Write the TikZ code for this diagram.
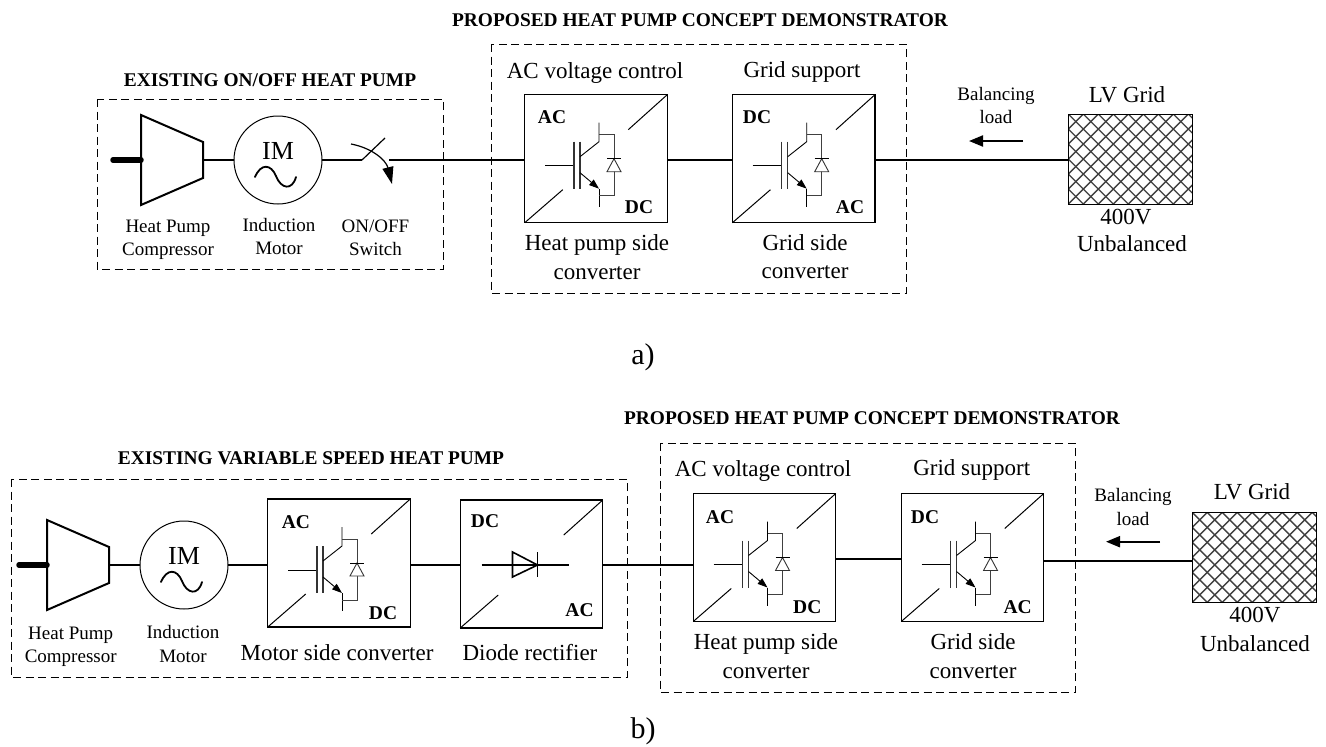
\documentclass[tikz,border=0pt]{standalone}
\usepackage{fontspec}
\setmainfont{Liberation Serif}
\usetikzlibrary{arrows.meta,calc}
\tikzset{
 x=1pt,y=-1pt,
 every node/.style={inner sep=0pt,outer sep=0pt,align=center},
 wire/.style={line width=2pt},
 dashbox/.style={draw,line width=1pt,dash pattern=on 8pt off 4.5pt},
 convbox/.style={draw,line width=1.3pt,minimum width=142.5pt,minimum height=128pt},
 thin part/.style={line width=0.9pt},
 mot/.style={circle,draw,line width=1pt,minimum size=88pt},
 grid box/.style={draw,line width=1pt,minimum width=124.5pt,minimum height=90pt},
 ttl/.style={font=\bfseries\fontsize{19.4}{22}\selectfont},
 big/.style={font=\fontsize{23}{28.5}\selectfont},
 small/.style={font=\fontsize{19}{23.5}\selectfont},
 lab/.style={font=\bfseries\fontsize{19.5}{22}\selectfont},
 caption text/.style={font=\fontsize{30}{32}\selectfont},
 arrowline/.style={line width=2pt,-{Triangle[length=14pt,width=11pt]}},
}
\newcommand{\convframe}[3]{%
 \node[convbox] (#1) at (#2,#3) {};
 \draw[line width=1pt] (#1.north east) -- ++(-39,35);
 \draw[line width=1pt] (#1.south west) -- ++(38,-33);
}
\newcommand{\igbt}[1]{%
 \begin{scope}[shift={(#1.center)},thin part]
  \draw (-51,7) -- (-23,7);
  \draw[line width=1.1pt,black!80] (-22,-17) -- (-22,30);
  \draw[line width=1.1pt,black!80] (-16,-17) -- (-16,30);
  \draw (3,-36) -- (3,-17) -- (-16,-2);
  \draw[-{Triangle[length=10pt,width=7pt]}] (-16,14) -- (3,30);
  \draw (3,30) -- (3,48);
  \draw[black!75] (3,-24) -- (18,-24) -- (18,37) -- (3,37);
  \draw[draw=black!80,fill=white] (18,0) -- (11,13) -- (25,13) -- cycle;
  \draw (11,0) -- (25,0);
 \end{scope}
}
\newcommand{\compressor}[3]{%
 \coordinate (#1in) at (#2,#3);
 \coordinate (#1out) at (#2+62,#3);
 \draw[line width=2pt,line join=miter] (#2,#3-45) -- (#2+62,#3-18) -- (#2+62,#3+18) -- (#2,#3+45) -- cycle;
 \coordinate (#1stub) at (#2-28,#3);
 \draw[line width=5.5pt,line cap=round] (#1stub) -- (#1in);
}
\newcommand{\motor}[3]{%
 \node[mot] (#1) at (#2,#3) {};
 \node[font=\fontsize{26}{28}\selectfont] at (#2,#3-9) {IM};
 \draw[line width=1.8pt,line cap=round] (#2-23,#3+17) .. controls (#2-17,#3+3) and (#2-7,#3+4) .. (#2-2,#3+16) .. controls (#2+3,#3+29) and (#2+14,#3+31) .. (#2+18,#3+17);
}
\newcommand{\gridhatch}[1]{%
 \begin{scope}
  \clip (#1.north west) rectangle (#1.south east);
  \foreach \k in {-8,...,16}{
   \draw[line width=1.4pt,black!75] ($(#1.north west)+(\k*15,0)$) -- ++(100,100);
   \draw[line width=1.4pt,black!75] ($(#1.north west)+(\k*15,0)$) -- ++(-100,100);
  }
 \end{scope}
 \draw[line width=1pt] (#1.north west) rectangle (#1.south east);
}
\begin{document}
\begin{tikzpicture}
\useasboundingbox (0,0) rectangle (1326,747);
\fill[white] (0,0) rectangle (1326,747);

% ---------- a)
\node[ttl] at (700,20) {PROPOSED HEAT PUMP CONCEPT DEMONSTRATOR};
\node[ttl] at (270,80) {EXISTING ON/OFF HEAT PUMP};
\draw[dashbox] (97,99) rectangle (443,269);
\draw[dashbox] (491,44) rectangle (906,293);

\compressor{ca}{141}{160}
\motor{ma}{278}{160}
\draw[wire] (caout) -- (ma);
\coordinate (swa) at (362,160);
\coordinate (swb) at (389,160);
\draw[wire] (ma) -- (swa);
\draw[line width=1.2pt] (swa) -- (385,138);
\draw[line width=1.2pt,-{Triangle[length=17pt,width=11pt]}] (351,144) .. controls (372,148) and (386,160) .. (392,184);

\convframe{a1}{596}{158.7}
\igbt{a1}
\node[lab] at (552,117) {AC};
\node[lab] at (639,207) {DC};
\convframe{a2}{803.7}{158.7}
\igbt{a2}
\node[lab] at (757,117) {DC};
\node[lab] at (850,207.5) {AC};
\draw[wire] (swb) -- (a1.west |- swb);
\draw[wire] (a1.east |- swb) -- (a2.west |- swb);
\node[grid box] (ga) at (1130.5,159) {};
\gridhatch{ga}
\draw[wire] (a2.east |- swb) -- (ga.west |- swb);
\node[big] at (595,73) {AC voltage control};
\node[big] at (802,72) {Grid support};
\node[big] at (597,257) {Heat pump side\\converter};
\node[big] at (805,256.5) {Grid side\\converter};
\node[small] at (168,240) {Heat Pump\\Compressor};
\node[small] at (279,236.5) {Induction\\Motor};
\node[small] at (375.5,238) {ON/OFF\\Switch};
\node[small] at (996,105.5) {Balancing\\load};
\coordinate (aa) at (1023,141);
\coordinate (ab) at (969,141);
\draw[arrowline] (aa) -- (ab);
\node[big] at (1127,95) {LV Grid};
\node[big] at (1126,217) {400V};
\node[big] at (1132,244) {Unbalanced};
\node[caption text] at (643,357) {a)};

% ---------- b)
\node[ttl] at (872,418) {PROPOSED HEAT PUMP CONCEPT DEMONSTRATOR};
\node[ttl] at (311,458) {EXISTING VARIABLE SPEED HEAT PUMP};
\draw[dashbox] (11,479) rectangle (627,677);
\draw[dashbox] (660,443) rectangle (1075,692);

\compressor{cb}{47}{565}
\motor{mb}{184}{565}
\draw[wire] (cbout) -- (mb.west);
\convframe{b1}{339}{563}
\igbt{b1}
\node[lab] at (296,522) {AC};
\node[lab] at (383,613) {DC};
\convframe{b2}{531.5}{564}
\node[lab] at (485,521) {DC};
\node[lab] at (579.5,610) {AC};
\draw[wire] (mb) -- (b1.west |- mb);
\draw[wire] (b1.east |- mb) -- (b2.west |- mb);
\begin{scope}[shift={(b2.center)}]
 \draw[wire] (-50,1) -- (37,1);
 \draw[line width=1.6pt,line join=miter] (-19,-12) -- (6,1) -- (-19,13) -- cycle;
 \draw[line width=1.6pt] (6,-12) -- (6,13);
\end{scope}
\convframe{b3}{764.5}{557.5}
\igbt{b3}
\node[lab] at (720,516.7) {AC};
\node[lab] at (807.3,606.7) {DC};
\convframe{b4}{972.5}{557.5}
\igbt{b4}
\node[lab] at (925,516.7) {DC};
\node[lab] at (1017.7,606.7) {AC};
\draw[wire] (b2.east |- mb) -- (b3.west |- mb);
\coordinate (ymid) at (0,559);
\coordinate (yright) at (0,561);
\draw[wire] (b3.east |- ymid) -- (b4.west |- ymid);
\node[grid box] (gb) at (1254.5,557.3) {};
\gridhatch{gb}
\draw[wire] (b4.east |- yright) -- (gb.west |- yright);
\node[big] at (763,470.7) {AC voltage control};
\node[big] at (971.7,470) {Grid support};
\node[big] at (766,656) {Heat pump side\\converter};
\node[big] at (973,656) {Grid side\\converter};
\node[big] at (337,652.5) {Motor side converter};
\node[big] at (530,652.5) {Diode rectifier};
\node[small] at (70.7,647) {Heat Pump\\Compressor};
\node[small] at (183,644) {Induction\\Motor};
\node[small] at (1133,507) {Balancing\\load};
\coordinate (ba) at (1160,541.7);
\coordinate (bb) at (1106,541.7);
\draw[arrowline] (ba) -- (bb);
\node[big] at (1252,491.7) {LV Grid};
\node[big] at (1255,629.5) {400V\\Unbalanced};
\node[caption text] at (643,731) {b)};
\end{tikzpicture}
\end{document}
